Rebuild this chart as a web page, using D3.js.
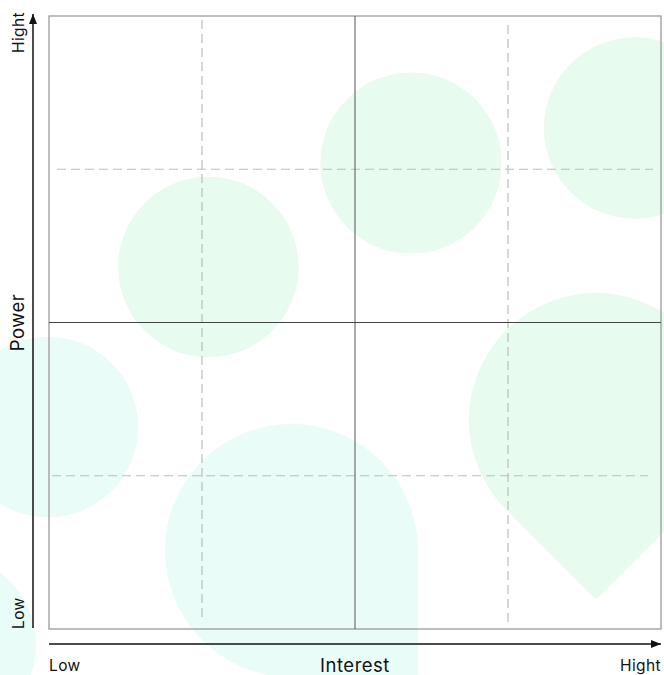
<!DOCTYPE html>
<meta charset="utf-8">
<html>
<head>
  <script src="https://d3js.org/d3.v7.min.js" charset="utf-8"></script>
</head>
<style>
* {
    margin: 0;
    padding: 0;
}
body {
    background-color: white;
}
text {
    font-family: Inter, "Open Sans", sans-serif;
    fill: #111;
}
.axis-label {
    font-size: 18.5px;
    letter-spacing: 0.5px;
}
.tick-label {
    font-size: 15.5px;
    letter-spacing: 0.4px;
}
</style>
<body>
<div id="container"></div>
<script type="text/javascript">

var width = 664;
var height = 675;
var margin = {left: 49, right: 3, top: 16, bottom: 46}

// quadrant grid: 4 x 4 units on both axes
var gridDomain = [0, 4]
var quarterLines = [1, 3]
var midLine = 2

// labels
var xLabel = "Interest"
var yLabel = "Power"
var lowHigh = ["Low", "Hight"]

// background blobs, in grid units (r in x-units)
var blobKind = ["circle", "circle", "circle", "circle", "circle", "drop", "drop"]
var blobX    = [2.366, 3.828, 1.042, -0.007, -0.68, 1.585, 3.575]
var blobY    = [3.041, 3.269, 2.362, 1.318, -0.104, 0.512, 1.364]
var blobR    = [0.592, 0.593, 0.590, 0.590, 0.595, 0.827, 0.830]
var blobTip  = [0, 0, 0, 0, 0, 45, 90]   // tip direction, degrees (screen, clockwise from +x)
var blobTone = ["green", "green", "green", "cyan", "cyan", "cyan", "green"]

var tones = {green: "#e8fbef", cyan: "#e9fcf7"}

var x = d3.scaleLinear().domain(gridDomain).range([margin.left, width - margin.right])
var y = d3.scaleLinear().domain(gridDomain).range([height - margin.bottom, margin.top])
var unit = x(1) - x(0)

var svg = d3.select("#container")
            .append("svg")
            .attr("width", width)
            .attr("height", height)

svg.append("defs").append("marker")
   .attr("id", "arrow")
   .attr("viewBox", "0 0 10 8")
   .attr("refX", 10)
   .attr("refY", 4)
   .attr("markerWidth", 10)
   .attr("markerHeight", 8)
   .attr("markerUnits", "userSpaceOnUse")
   .attr("orient", "auto")
   .append("path")
   .attr("d", "M0,0 L10,4 L0,8 Z")
   .attr("fill", "#111")

// teardrop: circle with one sharp corner at distance r*sqrt2
function dropPath(cx, cy, r, deg) {
  var a = deg * Math.PI / 180
  var p = d3.path()
  var a1 = a - Math.PI / 4, a2 = a + Math.PI / 4
  p.moveTo(cx + r * Math.cos(a1), cy + r * Math.sin(a1))
  p.lineTo(cx + r * Math.SQRT2 * Math.cos(a), cy + r * Math.SQRT2 * Math.sin(a))
  p.lineTo(cx + r * Math.cos(a2), cy + r * Math.sin(a2))
  p.arc(cx, cy, r, a2, a1 + 2 * Math.PI)
  p.closePath()
  return p.toString()
}

function circlePath(cx, cy, r) {
  var p = d3.path()
  p.moveTo(cx + r, cy)
  p.arc(cx, cy, r, 0, 2 * Math.PI)
  p.closePath()
  return p.toString()
}

var blobs = blobKind.map((k, i) => ({kind: k, x: blobX[i], y: blobY[i], r: blobR[i], tip: blobTip[i], tone: blobTone[i]}))

svg.append("g").selectAll("path")
   .data(blobs)
   .enter()
   .append("path")
   .attr("d", (b) => b.kind == "circle"
        ? circlePath(x(b.x), y(b.y), b.r * unit)
        : dropPath(x(b.x), y(b.y), b.r * unit, b.tip))
   .attr("fill", (b) => tones[b.tone])

// dashed quarter lines
var grid = svg.append("g")
   .attr("stroke", "#bdbdbd")
   .attr("stroke-width", 1.2)
   .attr("stroke-dasharray", "9,5")

grid.selectAll("line.v")
   .data(quarterLines)
   .enter()
   .append("line")
   .attr("x1", (d) => x(d)).attr("x2", (d) => x(d))
   .attr("y1", (d, i) => y(i == 0 ? 3.974 : 3.942))
   .attr("y2", (d, i) => y(i == 0 ? 0.078 : 0.045))

grid.selectAll("line.h")
   .data(quarterLines)
   .enter()
   .append("line")
   .attr("y1", (d) => y(d)).attr("y2", (d) => y(d))
   .attr("x1", (d) => x(d == 3 ? 0.052 : 0.02))
   .attr("x2", (d) => x(d == 3 ? 3.948 : 3.915))

// frame
svg.append("rect")
   .attr("x", x(0))
   .attr("y", y(4))
   .attr("width", x(4) - x(0))
   .attr("height", y(0) - y(4))
   .attr("fill", "none")
   .attr("stroke", "#9a9a9a")
   .attr("stroke-width", 1.3)

// quadrant dividers
svg.append("line")
   .attr("x1", x(midLine)).attr("x2", x(midLine))
   .attr("y1", y(0)).attr("y2", y(4))
   .attr("stroke", "#555")
svg.append("line")
   .attr("x1", x(0)).attr("x2", x(4))
   .attr("y1", y(midLine)).attr("y2", y(midLine))
   .attr("stroke", "#444")

// axis arrows
svg.append("line")
   .attr("x1", 33).attr("x2", 33)
   .attr("y1", y(0) - 1).attr("y2", y(4) - 2)
   .attr("stroke", "#111")
   .attr("stroke-width", 1.5)
   .attr("marker-end", "url(#arrow)")

svg.append("line")
   .attr("x1", x(0)).attr("x2", x(4))
   .attr("y1", 644).attr("y2", 644)
   .attr("stroke", "#111")
   .attr("stroke-width", 1.5)
   .attr("marker-end", "url(#arrow)")

// labels
svg.append("text")
   .attr("class", "axis-label")
   .attr("x", x(midLine))
   .attr("y", 672)
   .attr("text-anchor", "middle")
   .text(xLabel)

svg.append("text")
   .attr("class", "tick-label")
   .attr("x", x(0))
   .attr("y", 671)
   .attr("text-anchor", "start")
   .text(lowHigh[0])

svg.append("text")
   .attr("class", "tick-label")
   .attr("x", x(4))
   .attr("y", 671)
   .attr("text-anchor", "end")
   .text(lowHigh[1])

svg.append("text")
   .attr("class", "axis-label")
   .attr("transform", "translate(24," + y(midLine) + ") rotate(-90)")
   .attr("text-anchor", "middle")
   .text(yLabel)

svg.append("text")
   .attr("class", "tick-label")
   .attr("transform", "translate(23.5," + y(0) + ") rotate(-90)")
   .attr("text-anchor", "start")
   .text(lowHigh[0])

svg.append("text")
   .attr("class", "tick-label")
   .attr("transform", "translate(23.5," + (y(4) - 4) + ") rotate(-90)")
   .attr("text-anchor", "end")
   .text(lowHigh[1])

</script>
</body>
</html>
